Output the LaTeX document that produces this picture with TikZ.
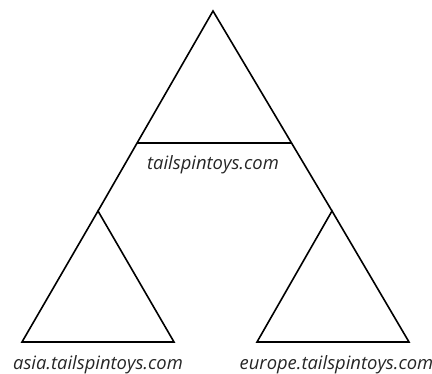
\documentclass[tikz,border=0pt]{standalone}
\usepackage{fontspec}
\setmainfont{Open Sans}
\usepackage{tikz}
\usetikzlibrary{calc}

\begin{document}
\begin{tikzpicture}[x=1pt, y=-1pt, line width=1.6pt, line join=miter,
		dnslabel/.style={font=\fontsize{18.4}{22}\selectfont\itshape, text=black!85, inner sep=0pt}]
		\useasboundingbox (0,0) rectangle (432,374);
		% forest root
		\coordinate (top) at (213,11);
		\coordinate (asiatop) at (98,211);
		\coordinate (eutop) at (332,211);
		\draw (asiatop) -- (top) -- (eutop);
		\draw ($(top)!0.66!(asiatop)$) -- ($(top)!0.66!(eutop)$);
		\node[dnslabel] (root) at (213,165) {tailspintoys.com};
		% child domains
		\draw (asiatop) -- (22,342) -- (174,342) -- cycle;
		\draw (eutop) -- (257,342) -- (409,342) -- cycle;
		\node[dnslabel] (asia) at (98,364.5) {asia.tailspintoys.com};
		\node[dnslabel] (europe) at (336.5,364.5) {europe.tailspintoys.com};
	\end{tikzpicture}
\end{document}
